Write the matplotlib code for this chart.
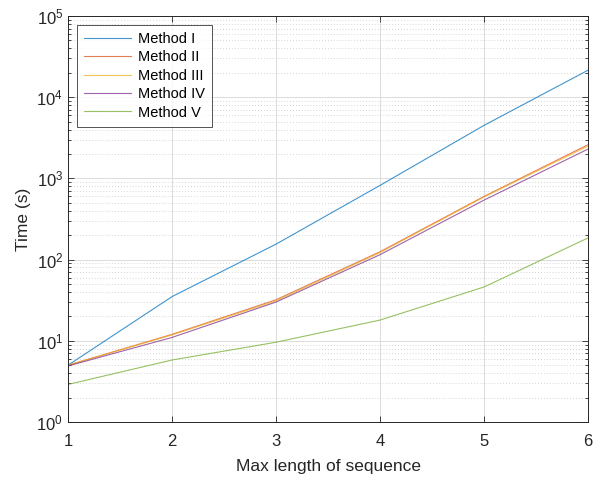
import numpy as np
import matplotlib.pyplot as plt
from matplotlib.ticker import LogLocator, NullFormatter

plt.rcParams['font.family'] = ['Liberation Sans', 'DejaVu Sans']
plt.rcParams['mathtext.fontset'] = 'custom'
plt.rcParams['mathtext.rm'] = 'Liberation Sans'

# Данные
lengths = [1, 2, 3, 4, 5, 6]
labels = ['Method I', 'Method II', 'Method III', 'Method IV', 'Method V']
method_1 = [5.0, 35, 155, 820, 4500, 21500]
method_2 = [5.0, 12.0, 32, 125, 600, 2600]
method_3 = [5.0, 11.8, 31, 122, 590, 2500]
method_4 = [4.9, 11.0, 30, 115, 540, 2300]
method_5 = [2.9, 5.8, 9.6, 18, 46, 185]
series = [method_1, method_2, method_3, method_4, method_5]

colors = ['#0072BD', '#D95319', '#EDB120', '#7E2F8E', '#77AC30']

fig = plt.figure(figsize=(5.93, 4.83), dpi=100)
ax = fig.add_axes([0.1147, 0.1263, 0.877, 0.8406])

for vals, lab, col in zip(series, labels, colors):
    ax.plot(lengths, vals, color=col, lw=0.8, alpha=0.75, label=lab)

ax.set_yscale('log')
ax.set_xlim(1, 6)
ax.set_ylim(1, 1e5)
ax.set_xticks(lengths)
ax.yaxis.set_major_locator(LogLocator(base=10, numticks=10))
ax.yaxis.set_minor_locator(LogLocator(base=10, subs=np.arange(2, 10), numticks=20))
ax.yaxis.set_minor_formatter(NullFormatter())

ax.grid(True, which='major', color='#dcdcdc', lw=0.7, ls='-')
ax.grid(True, which='minor', axis='y', color='#c8c8c8', lw=0.6, ls=(0, (1, 2.5)))
ax.set_axisbelow(True)

for s in ax.spines.values():
    s.set_color('#262626')
    s.set_linewidth(0.7)
ax.tick_params(which='both', direction='in', top=True, right=True,
               colors='#262626', labelsize=12, width=0.6)
ax.tick_params(which='major', length=4)
ax.tick_params(which='minor', length=2)
ax.tick_params(axis='x', pad=9)

ax.set_xlabel('Max length of sequence', fontsize=12.5, color='#262626', labelpad=7)
ax.set_ylabel('Time (s)', fontsize=12.5, color='#262626')

leg = ax.legend(loc='upper left', fontsize=10.5, frameon=True, fancybox=False,
                borderaxespad=0.6, handlelength=3.2, labelspacing=0.3,
                handletextpad=0.5, borderpad=0.5)
leg.get_frame().set_edgecolor('#262626')
leg.get_frame().set_linewidth(0.7)

fig.savefig('out.png', dpi=100)
